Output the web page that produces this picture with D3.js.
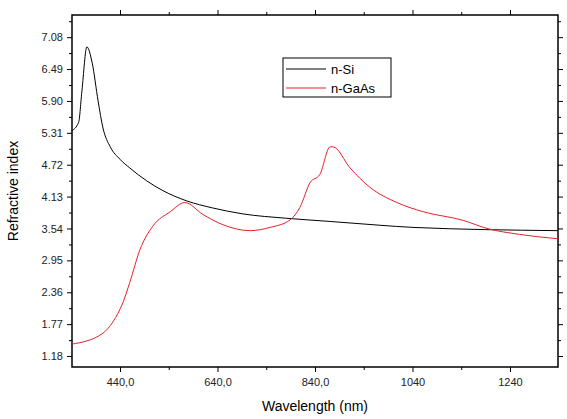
<!DOCTYPE html><html><head><script src="https://cdn.jsdelivr.net/npm/d3@7"></script>
<style>body{margin:0;background:#fff}text{font-family:"Liberation Sans",Arial,sans-serif}</style></head><body><svg id="c" width="567" height="419"></svg>
<script>
const siX=[341,355,362,372,383,395,405,420,440,460,495,528,577,630,692,780,871,973,1041,1338];
const siY=[5.35,5.5,6.1,6.90,6.60,5.90,5.40,5.05,4.82,4.66,4.42,4.24,4.05,3.92,3.81,3.73,3.67,3.60,3.56,3.50];
const gaX=[341,403,426,446,460,481,507,543,573,610,651,707,748,789,809,830,850,871,877,912,953,1008,1062,1144,1193,1260,1338];
const gaY=[1.40,1.59,1.82,2.17,2.54,3.15,3.58,3.85,4.02,3.80,3.61,3.50,3.56,3.70,3.93,4.39,4.54,5.05,5.05,4.66,4.30,4.02,3.85,3.69,3.54,3.43,3.35];
const xTicks=[440,640,840,1040,1240];
const xLabels=["440,0","640,0","840,0","1040","1240"];
const yTicks=[1.18,1.77,2.36,2.95,3.54,4.13,4.72,5.31,5.90,6.49,7.08];
const svg=d3.select("#c");
const L=72,R=558,T=15,B=367;
const x=d3.scaleLinear().domain([341.5,1338.5]).range([L,R]);
const y=d3.scaleLinear().domain([0.977,7.49]).range([B,T]);
const xMinor=xTicks.map(t=>t+100).concat([340+0]).filter(t=>t>341.5&&t<1338.5);
const yMinor=yTicks.map(t=>t+0.295).concat([1.18-0.295]).filter(t=>t>0.977&&t<7.49);
const g=svg.append("g");
function ax(axis,tr){const a=g.append("g").attr("transform",tr).call(axis);a.select(".domain").remove();a.selectAll("line").attr("stroke","#000");a.selectAll("text").attr("font-size",11).attr("fill","#222");return a;}
ax(d3.axisBottom(x).tickValues(xTicks).tickFormat((d,i)=>xLabels[i]).tickSize(5).tickPadding(6),`translate(0,${B})`);
ax(d3.axisBottom(x).tickValues(xMinor).tickFormat("").tickSize(3),`translate(0,${B})`);
ax(d3.axisTop(x).tickValues(xTicks).tickFormat("").tickSize(5),`translate(0,${T})`);
ax(d3.axisTop(x).tickValues(xMinor).tickFormat("").tickSize(3),`translate(0,${T})`);
ax(d3.axisLeft(y).tickValues(yTicks).tickFormat(d3.format(".2f")).tickSize(5).tickPadding(4),`translate(${L},0)`);
ax(d3.axisLeft(y).tickValues(yMinor).tickFormat("").tickSize(3),`translate(${L},0)`);
ax(d3.axisRight(y).tickValues(yTicks).tickFormat("").tickSize(5),`translate(${R},0)`);
ax(d3.axisRight(y).tickValues(yMinor).tickFormat("").tickSize(3),`translate(${R},0)`);
g.append("rect").attr("x",L).attr("y",T).attr("width",R-L).attr("height",B-T).attr("fill","none").attr("stroke","#000").attr("stroke-width",1.5);
const line=d3.line().x(d=>x(d[0])).y(d=>y(d[1])).curve(d3.curveMonotoneX);
g.append("path").datum(siX.map((v,i)=>[v,siY[i]])).attr("d",line).attr("fill","none").attr("stroke","#000").attr("stroke-width",1);
g.append("path").datum(gaX.map((v,i)=>[v,gaY[i]])).attr("d",line).attr("fill","none").attr("stroke","#e8202a").attr("stroke-width",1);
const lg=g.append("g");
lg.append("rect").attr("x",283).attr("y",58).attr("width",108).attr("height",39).attr("fill","#fff").attr("stroke","#000");
[["n-Si","#000",69],["n-GaAs","#e8202a",88]].forEach(([t,c,yy])=>{
lg.append("line").attr("x1",286).attr("x2",326).attr("y1",yy).attr("y2",yy).attr("stroke",c);
lg.append("text").attr("x",331).attr("y",yy+4.5).attr("font-size",13).text(t);});
g.append("text").attr("x",315).attr("y",411).attr("text-anchor","middle").attr("font-size",14).text("Wavelength (nm)");
g.append("text").attr("transform","translate(18,191) rotate(-90)").attr("text-anchor","middle").attr("font-size",14).text("Refractive index");
</script></body></html>
